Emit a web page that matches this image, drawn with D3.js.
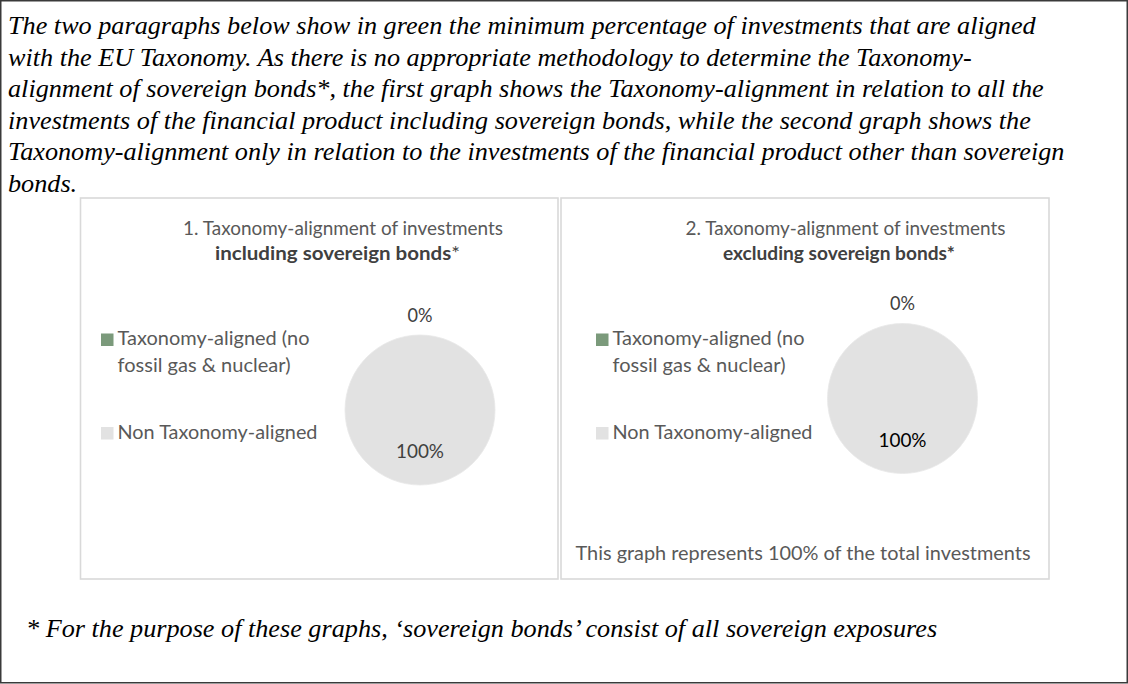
<!DOCTYPE html>
<html>
<head>
<meta charset="utf-8">
<script src="https://cdn.jsdelivr.net/npm/d3@7"></script>
<style>
  html, body { margin: 0; padding: 0; background: #fff; }
  svg { display: block; }
</style>
</head>
<body>
<svg id="chart"></svg>
<script>
// --- data ---
const categories = ["Taxonomy-aligned (no fossil gas & nuclear)", "Non Taxonomy-aligned"];
const legendLines = [["Taxonomy-aligned (no", "fossil gas & nuclear)"], ["Non Taxonomy-aligned"]];
const includingValues = [0, 100];
const excludingValues = [0, 100];
const sliceColors = ["#7b9a7b", "#e2e2e2"];
const titlePlain = ["1. Taxonomy-alignment of investments", "2. Taxonomy-alignment of investments"];
const titleBold = ["including sovereign bonds", "excluding sovereign bonds*"];
const titleTail = ["*", ""];
const headerLines = [
  "The two paragraphs below show in green the minimum percentage of investments that are aligned",
  "with the EU Taxonomy. As there is no appropriate methodology to determine the Taxonomy-",
  "alignment of sovereign bonds*, the first graph shows the Taxonomy-alignment in relation to all the",
  "investments of the financial product including sovereign bonds, while the second graph shows the",
  "Taxonomy-alignment only in relation to the investments of the financial product other than sovereign",
  "bonds."
];
const panelNote = "This graph represents 100% of the total investments";
const footNote = "* For the purpose of these graphs, \u2018sovereign bonds\u2019 consist of all sovereign exposures";

const WIDTH = 1128;
const HEIGHT = 684;
const SERIF = "'Liberation Serif', 'Times New Roman', serif";
const SANS = "Lato, 'Open Sans', sans-serif";
const SANS_SIZE = 19.5;

let svg = d3.select("#chart")
  .attr("width", WIDTH)
  .attr("height", HEIGHT);

/**
 * Scale a text's font size so it spans a given width
 */
function fitWidth(sel, target) {
  let base = parseFloat(sel.attr("font-size"));
  let w = sel.node().getComputedTextLength();
  if (w > 0) sel.attr("font-size", (base * target / w).toFixed(2));
  return sel;
}

/**
 * Squeeze a text's glyphs to a given width (Calibri is narrower than Lato)
 */
function squeeze(sel, target) {
  return sel.attr("textLength", target).attr("lengthAdjust", "spacingAndGlyphs");
}

// outer frame
svg.append("rect")
  .attr("x", 0.75).attr("y", 0.75)
  .attr("width", WIDTH - 1.5).attr("height", HEIGHT - 2)
  .attr("fill", "none")
  .attr("stroke", "#3a3a3a")
  .attr("stroke-width", 1.5);

// header paragraph
let header = svg.append("g");
let first = header.append("text")
  .attr("x", 8).attr("y", 34)
  .attr("font-family", SERIF).attr("font-style", "italic")
  .attr("font-size", 22).attr("fill", "#000")
  .text(headerLines[0]);
fitWidth(first, 1028);
let headerSize = first.attr("font-size");
headerLines.slice(1).forEach((line, i) => {
  header.append("text")
    .attr("x", 8).attr("y", 34 + 31.5 * (i + 1))
    .attr("font-family", SERIF).attr("font-style", "italic")
    .attr("font-size", headerSize).attr("fill", "#000")
    .text(line);
});

// panels
const panels = [
  { x0: 80.5, x1: 558, cx: 420, cy: 410, titleX: 343, title2X: 337.5, bold2W: 245, legendX: 101, values: includingValues, bigColor: "#404040" },
  { x0: 561, x1: 1049, cx: 902.5, cy: 398.5, titleX: 845.5, title2X: 839, bold2W: 232, legendX: 596, values: excludingValues, bigColor: "#000" }
];
const legendWidths = [[192, 173], [200]];
const PANEL_TOP = 198;
const PANEL_BOTTOM = 579;
const R = 75;

let pie = d3.pie().sort(null).value(d => d);
let arc = d3.arc().innerRadius(0).outerRadius(R);
let outerLabel = d3.arc().innerRadius(R * 1.27).outerRadius(R * 1.27);
let innerLabel = d3.arc().innerRadius(R * 0.55).outerRadius(R * 0.55);

panels.forEach(function(p, k) {
  let g = svg.append("g");

  g.append("rect")
    .attr("x", p.x0).attr("y", PANEL_TOP)
    .attr("width", p.x1 - p.x0).attr("height", PANEL_BOTTOM - PANEL_TOP)
    .attr("fill", "#fff")
    .attr("stroke", "#d9d9d9")
    .attr("stroke-width", 1.6);

  // title
  let t1 = g.append("text")
    .attr("x", p.titleX).attr("y", 235)
    .attr("text-anchor", "middle")
    .attr("font-family", SANS).attr("font-size", SANS_SIZE).attr("fill", "#595959")
    .text(titlePlain[k]);
  squeeze(t1, 320);

  let t2 = g.append("text")
    .attr("x", p.title2X).attr("y", 260)
    .attr("text-anchor", "middle")
    .attr("font-family", SANS).attr("font-size", SANS_SIZE).attr("fill", "#404040");
  t2.append("tspan").attr("font-weight", "bold").text(titleBold[k]);
  if (titleTail[k]) t2.append("tspan").attr("font-weight", "normal").text(titleTail[k]);
  squeeze(t2, p.bold2W);

  // legend
  const legendRows = [345, 438.5];
  categories.forEach(function(cat, i) {
    g.append("rect")
      .attr("x", p.legendX).attr("y", legendRows[i] - 11.5)
      .attr("width", 12.5).attr("height", 12.5)
      .attr("fill", sliceColors[i]);
    legendLines[i].forEach(function(line, j) {
      let lt = g.append("text")
        .attr("x", p.legendX + 16.5).attr("y", legendRows[i] + j * 26.7)
        .attr("font-family", SANS).attr("font-size", 20).attr("fill", "#595959")
        .text(line);
      squeeze(lt, legendWidths[i][j]);
    });
  });

  // pie
  let arcs = pie(p.values);
  let pg = g.append("g").attr("transform", `translate(${p.cx},${p.cy})`);
  pg.selectAll("path")
    .data(arcs)
    .enter()
    .append("path")
      .attr("d", arc)
      .attr("fill", (d, i) => sliceColors[i])
      .attr("stroke", "#e9e9e9")
      .attr("stroke-width", 0.8);

  pg.selectAll("text.label")
    .data(arcs)
    .enter()
    .append("text")
      .attr("class", "label")
      .attr("transform", d => `translate(${(d.value === 0 ? outerLabel : innerLabel).centroid(d)})`)
      .attr("dy", "0.35em")
      .attr("text-anchor", "middle")
      .attr("font-family", SANS).attr("font-size", 20)
      .attr("fill", (d, i) => i === 0 ? "#404040" : p.bigColor)
      .text(d => d3.format(".0f")(d.value) + "%")
      .each(function(d) { squeeze(d3.select(this), d.value === 0 ? 25 : 48); });
});

// note in right panel
let note = svg.append("text")
  .attr("x", 803).attr("y", 560)
  .attr("text-anchor", "middle")
  .attr("font-family", SANS).attr("font-size", SANS_SIZE).attr("fill", "#595959")
  .text(panelNote);
squeeze(note, 455);

// footnote
svg.append("text")
  .attr("x", 26).attr("y", 637)
  .attr("font-family", SERIF).attr("font-style", "italic")
  .attr("font-size", headerSize).attr("fill", "#000")
  .text(footNote);
</script>
</body>
</html>
